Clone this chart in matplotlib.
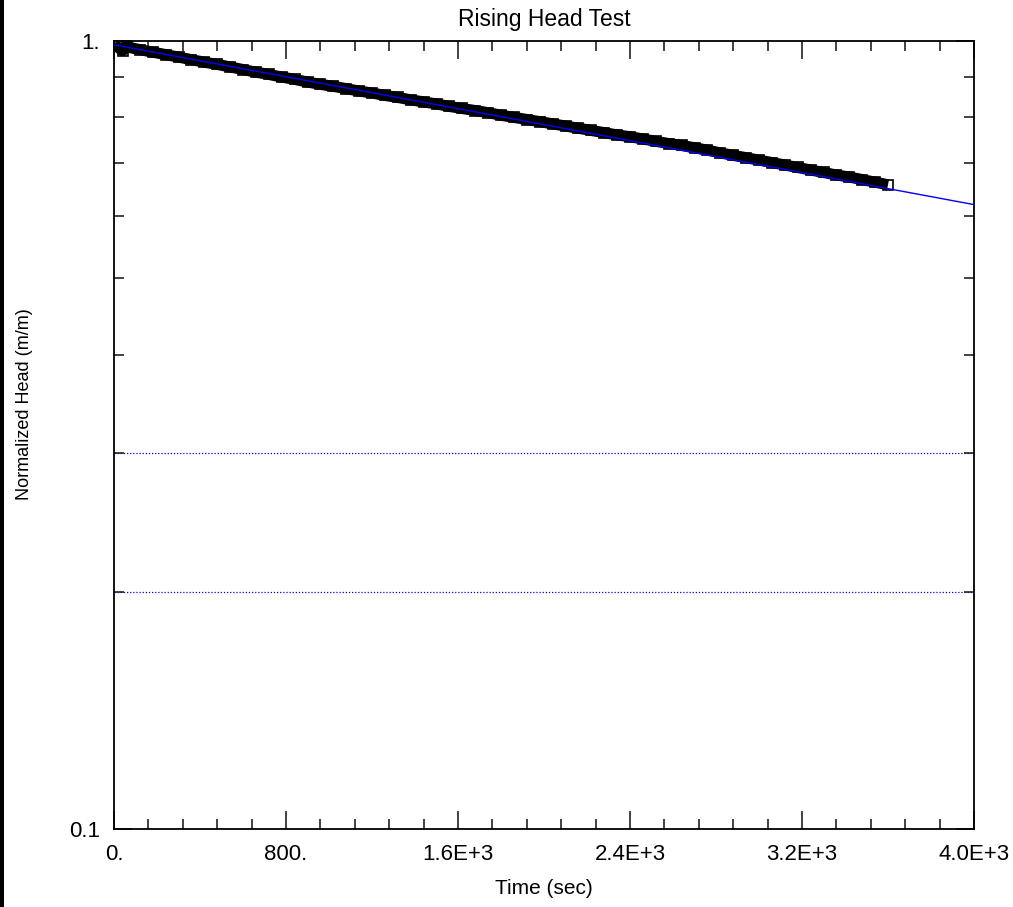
import matplotlib
matplotlib.use('Agg')
import matplotlib.pyplot as plt
from matplotlib.patches import Rectangle
from matplotlib.ticker import NullFormatter

FONT = "Liberation Sans"

# ─── Data ─────────────────────────────────────────────────────────────────────
time_s = [0, 40, 60, 120, 180, 240, 300, 360, 420, 480, 540, 600, 660, 720, 780,
          840, 900, 960, 1020, 1080, 1140, 1200, 1260, 1320, 1380, 1440, 1500,
          1560, 1620, 1680, 1740, 1800, 1860, 1920, 1980, 2040, 2100, 2160, 2220,
          2280, 2340, 2400, 2460, 2520, 2580, 2640, 2700, 2760, 2820, 2880, 2940,
          3000, 3060, 3120, 3180, 3240, 3300, 3360, 3420, 3480, 3540, 3600]
head = [0.990, 0.972, 0.983, 0.975, 0.968, 0.961, 0.954, 0.947, 0.940, 0.934,
        0.927, 0.920, 0.913, 0.907, 0.900, 0.894, 0.887, 0.881, 0.876, 0.870,
        0.864, 0.859, 0.853, 0.848, 0.842, 0.837, 0.832, 0.826, 0.821, 0.816,
        0.811, 0.805, 0.800, 0.795, 0.790, 0.785, 0.780, 0.775, 0.770, 0.765,
        0.760, 0.756, 0.751, 0.746, 0.741, 0.737, 0.732, 0.727, 0.721, 0.716,
        0.711, 0.706, 0.701, 0.696, 0.691, 0.686, 0.681, 0.676, 0.672, 0.667,
        0.662, 0.657]

fit_t = [0, 4000]
fit_h = [0.989, 0.620]

guide_levels = [0.2, 0.3]

x_ticks = [0, 800, 1600, 2400, 3200, 4000]
x_labels = ["0.", "800.", "1.6E+3", "2.4E+3", "3.2E+3", "4.0E+3"]
x_minor = [160, 320, 480, 640, 960, 1120, 1280, 1440, 1760, 1920, 2080, 2240,
           2560, 2720, 2880, 3040, 3360, 3520, 3680, 3840]
y_ticks = [0.1, 1.0]
y_labels = ["0.1", "1."]
y_minor = [0.2, 0.3, 0.4, 0.5, 0.6, 0.7, 0.8, 0.9]

# ─── Figure ───────────────────────────────────────────────────────────────────
fig = plt.figure(figsize=(10.13, 9.07), dpi=100)
fig.patch.set_facecolor("white")
ax = fig.add_axes([114 / 1013, 1 - 829 / 907, 860 / 1013, 788 / 907])

# black strip on left edge of the original image
fig.patches.append(Rectangle((0, 0), 4 / 1013, 1, transform=fig.transFigure,
                             facecolor="black", edgecolor="none"))

ax.set_yscale("log")
ax.set_xlim(0, 4000)
ax.set_ylim(0.1, 1.0)

for lvl in guide_levels:
    ax.axhline(lvl, color="#0000ff", lw=0.9, ls=(0, (1, 1.5)), zorder=1)

# observed data: dense hollow squares forming a solid band
ax.plot(time_s, head, color="black", lw=8, solid_capstyle="butt", zorder=2)
ax.plot(time_s, head, ls="none", marker="s", markersize=6.8,
        markerfacecolor="none", markeredgecolor="black", markeredgewidth=1.2,
        zorder=3)
# fitted line
ax.plot(fit_t, fit_h, color="#0000ff", lw=1.0, zorder=4)

ax.set_xticks(x_ticks, x_labels)
ax.set_xticks(x_minor, minor=True)
ax.set_yticks(y_ticks, y_labels)
ax.set_yticks(y_minor, minor=True)
ax.yaxis.set_minor_formatter(NullFormatter())

ax.tick_params(which="both", direction="in", top=True, right=True,
               labelsize=16, width=1.2, color="#222222")
ax.tick_params(which="major", length=13)
ax.tick_params(which="minor", length=7)
ax.tick_params(axis="x", pad=11)
ax.tick_params(axis="y", pad=10)
for lbl in ax.get_xticklabels() + ax.get_yticklabels():
    lbl.set_fontfamily(FONT)

for sp in ax.spines.values():
    sp.set_linewidth(1.3)

ax.set_title("Rising Head Test", fontsize=16.5, fontfamily=FONT, pad=11)
ax.set_xlabel("Time (sec)", fontsize=15, fontfamily=FONT, labelpad=10)
ax.set_ylabel("Normalized Head (m/m)", fontsize=13, fontfamily=FONT)
ax.yaxis.set_label_coords(-0.094, 0.539)

fig.savefig("out.png", dpi=100, facecolor="white")
plt.close(fig)
